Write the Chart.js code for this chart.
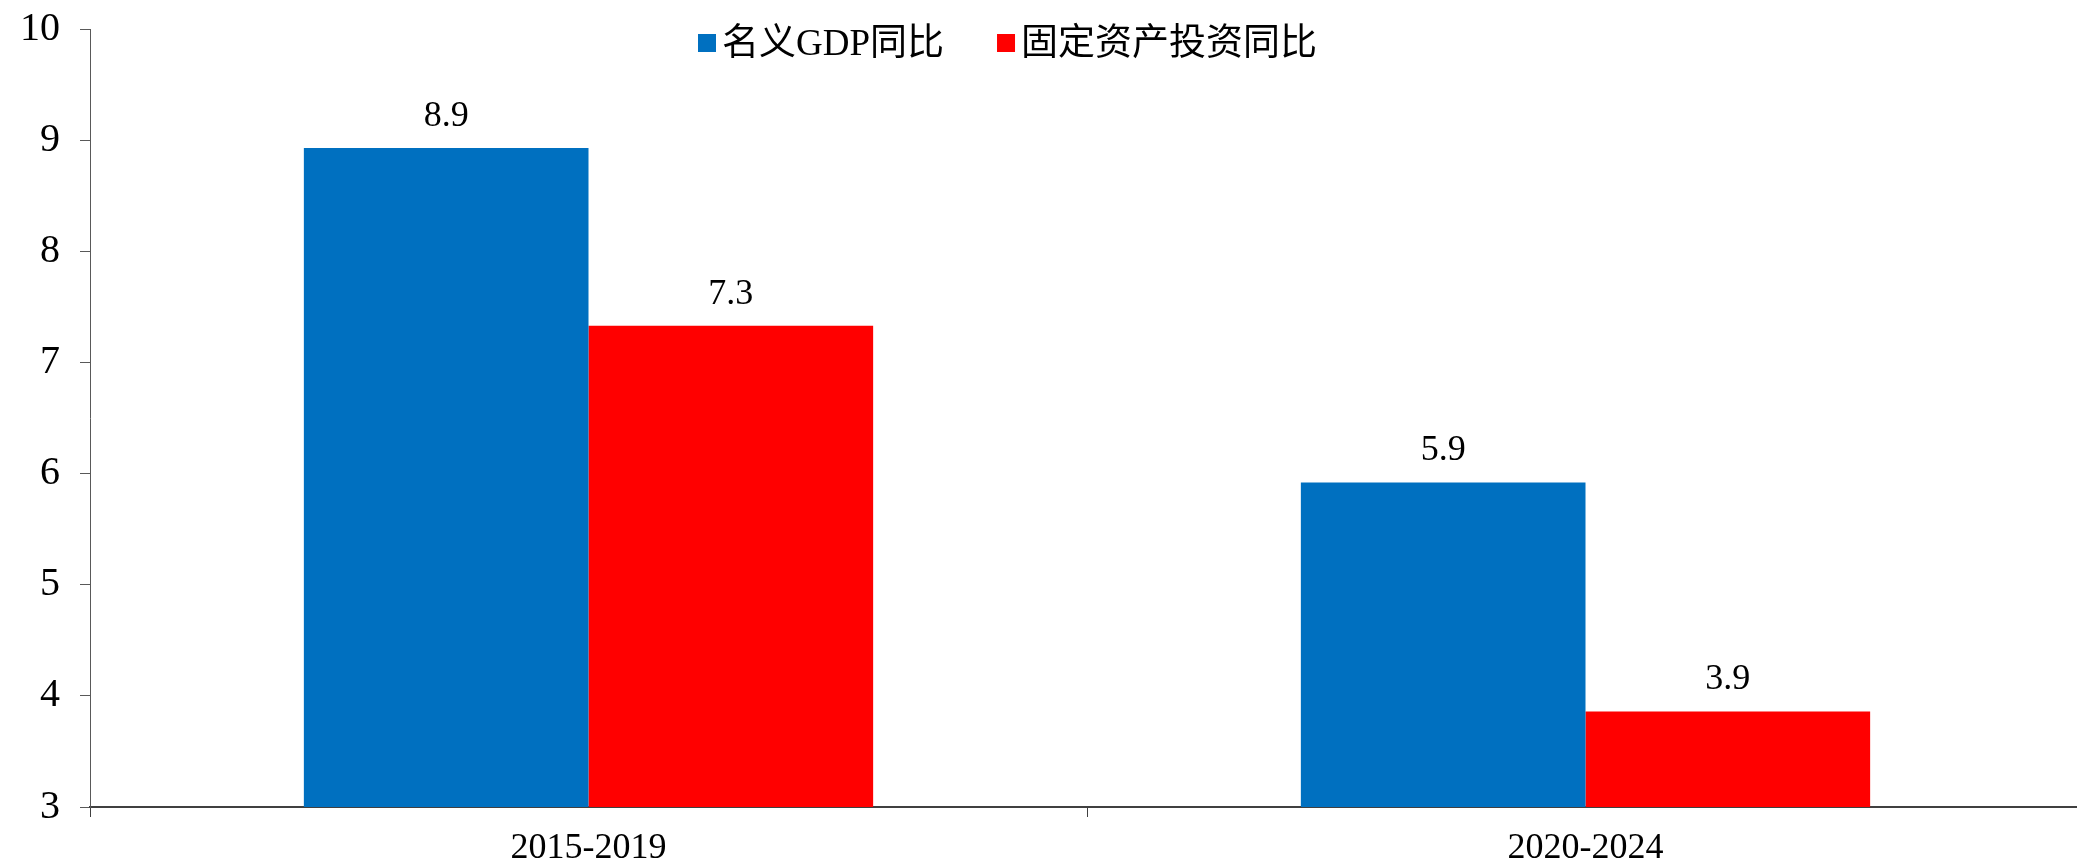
<!DOCTYPE html>
<html>
<head>
<meta charset="utf-8">
<script src="https://cdn.jsdelivr.net/npm/chart.js@4/dist/chart.umd.min.js"></script>
<style>
  html, body { margin: 0; padding: 0; background: #fff; overflow: hidden; }
  #wrap { width: 2086px; height: 865px; }
</style>
</head>
<body>
<div id="wrap"><canvas id="chart"></canvas></div>
<script>
// Chart data
const categories = ["2015-2019", "2020-2024"];
const gdpYoY = [8.93, 5.92];
const fixedInvestYoY = [7.33, 3.86];
const seriesNames = ["名义GDP同比", "固定资产投资同比"];
const yMin = 3;
const yMax = 10;

const serif = '"Liberation Serif", "Times New Roman", serif';
const legendFont = '37px "Liberation Serif", "Noto Sans CJK SC", sans-serif';

// Value labels above bars
const valueLabels = {
  id: "valueLabels",
  afterDatasetsDraw(chart) {
    const ctx = chart.ctx;
    ctx.save();
    ctx.font = "36px " + serif;
    ctx.fillStyle = "#000";
    ctx.textAlign = "center";
    ctx.textBaseline = "alphabetic";
    chart.data.datasets.forEach((ds, i) => {
      chart.getDatasetMeta(i).data.forEach((bar, j) => {
        ctx.fillText(ds.data[j].toFixed(1), bar.x, bar.y - 22);
      });
    });
    ctx.restore();
  },
};

// Legend drawn inside the plot area, at the top
const innerLegend = {
  id: "innerLegend",
  afterDraw(chart, args, opts) {
    const ctx = chart.ctx;
    ctx.save();
    ctx.font = legendFont;
    ctx.textBaseline = "middle";
    let x = opts.left;
    chart.data.datasets.forEach((ds) => {
      ctx.fillStyle = ds.backgroundColor;
      ctx.fillRect(x, opts.top - 9, 18, 18);
      x += 24;
      ctx.fillStyle = "#000";
      ctx.fillText(ds.label, x, opts.top + 2);
      x += ctx.measureText(ds.label).width + 53;
    });
    ctx.restore();
  },
};

new Chart(document.getElementById("chart"), {
  type: "bar",
  data: {
    labels: categories,
    datasets: [
      {
        label: seriesNames[0],
        data: gdpYoY,
        backgroundColor: "#0070C0",
        categoryPercentage: 0.571,
        barPercentage: 1,
      },
      {
        label: seriesNames[1],
        data: fixedInvestYoY,
        backgroundColor: "#FF0000",
        categoryPercentage: 0.571,
        barPercentage: 1,
      },
    ],
  },
  options: {
    responsive: true,
    maintainAspectRatio: false,
    animation: false,
    layout: {
      padding: { top: 29, left: 12, right: 2, bottom: 0 },
    },
    scales: {
      x: {
        afterFit(scale) {
          scale.height = 58;
          scale.paddingLeft = 0;
          scale.paddingRight = 0;
        },
        grid: {
          drawOnChartArea: false,
          tickLength: 10,
          color: "#404040",
          offset: true,
        },
        border: { color: "#404040", width: 2 },
        ticks: {
          color: "#000",
          padding: 10,
          font: { family: serif, size: 36 },
        },
      },
      y: {
        min: yMin,
        max: yMax,
        afterFit(scale) {
          scale.width = 78;
          scale.paddingTop = 0;
          scale.paddingBottom = 0;
        },
        grid: {
          drawOnChartArea: false,
          tickLength: 10,
          color: "#595959",
        },
        border: { color: "#595959", width: 1 },
        ticks: {
          stepSize: 1,
          color: "#000",
          padding: 20,
          font: { family: serif, size: 40 },
        },
      },
    },
    plugins: {
      legend: { display: false },
      tooltip: { enabled: false },
      innerLegend: { left: 698, top: 43 },
    },
  },
  plugins: [valueLabels, innerLegend],
});
</script>
</body>
</html>
